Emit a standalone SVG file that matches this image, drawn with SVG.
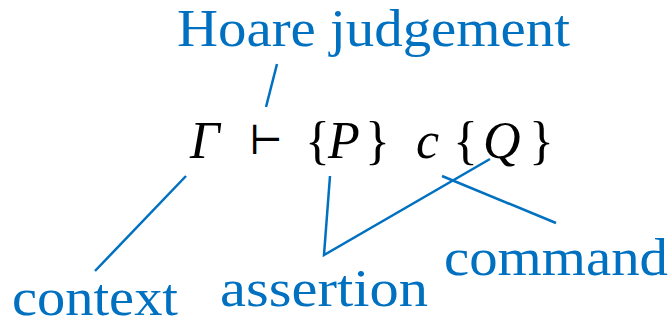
<svg xmlns="http://www.w3.org/2000/svg" width="672" height="327" viewBox="0 0 672 327">
<style>
.lbl{font-family:"Liberation Serif","DejaVu Serif",serif;font-size:53px;fill:#0070C0}
.m{font-family:"Liberation Serif","DejaVu Serif",serif;font-size:52px;fill:#000}
.i{font-style:italic}
.ts{font-family:"Liberation Serif","DejaVu Serif",serif;font-size:40px;fill:#000}
.ln{stroke:#0070C0;stroke-width:2.5;fill:none}
</style>
<rect width="672" height="327" fill="#fff"/>
<g id="formula">
<text class="m i" x="190" y="158">Γ</text>
<text class="ts" x="249" y="154">⊢</text>
<text class="m" x="305" y="158">{</text>
<text class="m i" x="328" y="158">P</text>
<text class="m" x="365" y="158">}</text>
<text class="m i" x="416" y="158">c</text>
<text class="m" x="453" y="158">{</text>
<text class="m i" x="483" y="158">Q</text>
<text class="m" x="529" y="158">}</text>
</g>
<g id="hoare"><text class="lbl" x="177" y="46" textLength="393" lengthAdjust="spacingAndGlyphs">Hoare judgement</text></g>
<g id="context"><text class="lbl" x="12" y="315" textLength="166" lengthAdjust="spacingAndGlyphs">context</text></g>
<g id="assertion"><text class="lbl" x="220" y="306" textLength="208" lengthAdjust="spacingAndGlyphs">assertion</text></g>
<g id="command"><text class="lbl" x="444" y="275" textLength="224" lengthAdjust="spacingAndGlyphs">command</text></g>
<g id="connectors">
<line class="ln" x1="277" y1="64" x2="266" y2="107"/>
<line class="ln" x1="186" y1="176" x2="95" y2="271"/>
<polyline class="ln" points="330,176 324,255 490,159"/>
<line class="ln" x1="442" y1="176" x2="556" y2="223"/>
</g>
</svg>
